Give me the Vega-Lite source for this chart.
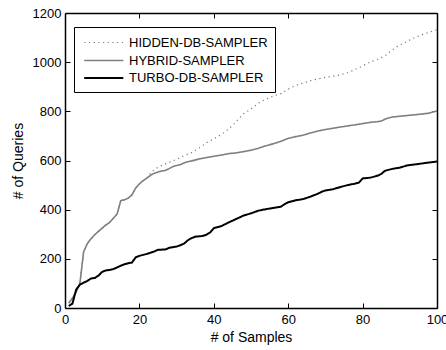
{
  "$schema": "https://vega.github.io/schema/vega-lite/v6.json",
  "width": 372,
  "height": 295,
  "autosize": {"type": "none"},
  "padding": {"left": 65, "top": 13, "right": 9, "bottom": 42},
  "config": {
    "font": "Liberation Sans",
    "view": {"stroke": null},
    "axis": {
      "grid": false,
      "domainColor": "black",
      "domainWidth": 1.5,
      "tickColor": "black",
      "tickWidth": 1,
      "tickSize": -5,
      "labelFontSize": 13,
      "labelColor": "black",
      "labelFont": "Liberation Sans",
      "labelFlush": false,
      "labelOverlap": false,
      "labelBound": false,
      "format": "d",
      "titleFontSize": 14,
      "titleFontWeight": "normal",
      "titleColor": "black",
      "titleFont": "Liberation Sans"
    },
    "legend": {
      "labelFont": "Liberation Sans",
      "labelFontSize": 13,
      "labelColor": "black"
    }
  },
  "data": {
    "values": [
      {"x": 1, "y": 20, "c": "HIDDEN-DB-SAMPLER"},
      {"x": 2, "y": 40, "c": "HIDDEN-DB-SAMPLER"},
      {"x": 3, "y": 65, "c": "HIDDEN-DB-SAMPLER"},
      {"x": 4, "y": 100, "c": "HIDDEN-DB-SAMPLER"},
      {"x": 5, "y": 228, "c": "HIDDEN-DB-SAMPLER"},
      {"x": 6, "y": 262, "c": "HIDDEN-DB-SAMPLER"},
      {"x": 8, "y": 298, "c": "HIDDEN-DB-SAMPLER"},
      {"x": 10, "y": 325, "c": "HIDDEN-DB-SAMPLER"},
      {"x": 12, "y": 348, "c": "HIDDEN-DB-SAMPLER"},
      {"x": 14, "y": 382, "c": "HIDDEN-DB-SAMPLER"},
      {"x": 15, "y": 437, "c": "HIDDEN-DB-SAMPLER"},
      {"x": 17, "y": 447, "c": "HIDDEN-DB-SAMPLER"},
      {"x": 18, "y": 460, "c": "HIDDEN-DB-SAMPLER"},
      {"x": 19, "y": 488, "c": "HIDDEN-DB-SAMPLER"},
      {"x": 20, "y": 505, "c": "HIDDEN-DB-SAMPLER"},
      {"x": 21, "y": 518, "c": "HIDDEN-DB-SAMPLER"},
      {"x": 22, "y": 530, "c": "HIDDEN-DB-SAMPLER"},
      {"x": 23, "y": 548, "c": "HIDDEN-DB-SAMPLER"},
      {"x": 24, "y": 563, "c": "HIDDEN-DB-SAMPLER"},
      {"x": 25, "y": 572, "c": "HIDDEN-DB-SAMPLER"},
      {"x": 26, "y": 580, "c": "HIDDEN-DB-SAMPLER"},
      {"x": 28, "y": 592, "c": "HIDDEN-DB-SAMPLER"},
      {"x": 30, "y": 605, "c": "HIDDEN-DB-SAMPLER"},
      {"x": 32, "y": 620, "c": "HIDDEN-DB-SAMPLER"},
      {"x": 34, "y": 632, "c": "HIDDEN-DB-SAMPLER"},
      {"x": 36, "y": 650, "c": "HIDDEN-DB-SAMPLER"},
      {"x": 38, "y": 672, "c": "HIDDEN-DB-SAMPLER"},
      {"x": 40, "y": 688, "c": "HIDDEN-DB-SAMPLER"},
      {"x": 42, "y": 705, "c": "HIDDEN-DB-SAMPLER"},
      {"x": 44, "y": 728, "c": "HIDDEN-DB-SAMPLER"},
      {"x": 46, "y": 758, "c": "HIDDEN-DB-SAMPLER"},
      {"x": 48, "y": 790, "c": "HIDDEN-DB-SAMPLER"},
      {"x": 50, "y": 810, "c": "HIDDEN-DB-SAMPLER"},
      {"x": 52, "y": 833, "c": "HIDDEN-DB-SAMPLER"},
      {"x": 54, "y": 850, "c": "HIDDEN-DB-SAMPLER"},
      {"x": 56, "y": 862, "c": "HIDDEN-DB-SAMPLER"},
      {"x": 58, "y": 872, "c": "HIDDEN-DB-SAMPLER"},
      {"x": 60, "y": 890, "c": "HIDDEN-DB-SAMPLER"},
      {"x": 62, "y": 905, "c": "HIDDEN-DB-SAMPLER"},
      {"x": 64, "y": 915, "c": "HIDDEN-DB-SAMPLER"},
      {"x": 66, "y": 925, "c": "HIDDEN-DB-SAMPLER"},
      {"x": 68, "y": 932, "c": "HIDDEN-DB-SAMPLER"},
      {"x": 70, "y": 938, "c": "HIDDEN-DB-SAMPLER"},
      {"x": 72, "y": 943, "c": "HIDDEN-DB-SAMPLER"},
      {"x": 74, "y": 948, "c": "HIDDEN-DB-SAMPLER"},
      {"x": 76, "y": 958, "c": "HIDDEN-DB-SAMPLER"},
      {"x": 78, "y": 970, "c": "HIDDEN-DB-SAMPLER"},
      {"x": 80, "y": 985, "c": "HIDDEN-DB-SAMPLER"},
      {"x": 82, "y": 1000, "c": "HIDDEN-DB-SAMPLER"},
      {"x": 84, "y": 1012, "c": "HIDDEN-DB-SAMPLER"},
      {"x": 86, "y": 1025, "c": "HIDDEN-DB-SAMPLER"},
      {"x": 88, "y": 1050, "c": "HIDDEN-DB-SAMPLER"},
      {"x": 90, "y": 1070, "c": "HIDDEN-DB-SAMPLER"},
      {"x": 92, "y": 1085, "c": "HIDDEN-DB-SAMPLER"},
      {"x": 94, "y": 1100, "c": "HIDDEN-DB-SAMPLER"},
      {"x": 96, "y": 1112, "c": "HIDDEN-DB-SAMPLER"},
      {"x": 98, "y": 1122, "c": "HIDDEN-DB-SAMPLER"},
      {"x": 100, "y": 1132, "c": "HIDDEN-DB-SAMPLER"},

      {"x": 1, "y": 20, "c": "HYBRID-SAMPLER"},
      {"x": 2, "y": 40, "c": "HYBRID-SAMPLER"},
      {"x": 3, "y": 65, "c": "HYBRID-SAMPLER"},
      {"x": 4, "y": 100, "c": "HYBRID-SAMPLER"},
      {"x": 5, "y": 228, "c": "HYBRID-SAMPLER"},
      {"x": 6, "y": 262, "c": "HYBRID-SAMPLER"},
      {"x": 7, "y": 282, "c": "HYBRID-SAMPLER"},
      {"x": 8, "y": 298, "c": "HYBRID-SAMPLER"},
      {"x": 9, "y": 312, "c": "HYBRID-SAMPLER"},
      {"x": 10, "y": 325, "c": "HYBRID-SAMPLER"},
      {"x": 11, "y": 338, "c": "HYBRID-SAMPLER"},
      {"x": 12, "y": 348, "c": "HYBRID-SAMPLER"},
      {"x": 13, "y": 365, "c": "HYBRID-SAMPLER"},
      {"x": 14, "y": 382, "c": "HYBRID-SAMPLER"},
      {"x": 15, "y": 437, "c": "HYBRID-SAMPLER"},
      {"x": 16, "y": 440, "c": "HYBRID-SAMPLER"},
      {"x": 17, "y": 447, "c": "HYBRID-SAMPLER"},
      {"x": 18, "y": 460, "c": "HYBRID-SAMPLER"},
      {"x": 19, "y": 488, "c": "HYBRID-SAMPLER"},
      {"x": 20, "y": 505, "c": "HYBRID-SAMPLER"},
      {"x": 21, "y": 518, "c": "HYBRID-SAMPLER"},
      {"x": 22, "y": 528, "c": "HYBRID-SAMPLER"},
      {"x": 23, "y": 540, "c": "HYBRID-SAMPLER"},
      {"x": 24, "y": 548, "c": "HYBRID-SAMPLER"},
      {"x": 25, "y": 553, "c": "HYBRID-SAMPLER"},
      {"x": 26, "y": 557, "c": "HYBRID-SAMPLER"},
      {"x": 27, "y": 560, "c": "HYBRID-SAMPLER"},
      {"x": 28, "y": 567, "c": "HYBRID-SAMPLER"},
      {"x": 29, "y": 575, "c": "HYBRID-SAMPLER"},
      {"x": 30, "y": 580, "c": "HYBRID-SAMPLER"},
      {"x": 31, "y": 583, "c": "HYBRID-SAMPLER"},
      {"x": 32, "y": 590, "c": "HYBRID-SAMPLER"},
      {"x": 33, "y": 595, "c": "HYBRID-SAMPLER"},
      {"x": 34, "y": 598, "c": "HYBRID-SAMPLER"},
      {"x": 35, "y": 602, "c": "HYBRID-SAMPLER"},
      {"x": 36, "y": 606, "c": "HYBRID-SAMPLER"},
      {"x": 38, "y": 612, "c": "HYBRID-SAMPLER"},
      {"x": 40, "y": 617, "c": "HYBRID-SAMPLER"},
      {"x": 42, "y": 622, "c": "HYBRID-SAMPLER"},
      {"x": 44, "y": 628, "c": "HYBRID-SAMPLER"},
      {"x": 46, "y": 631, "c": "HYBRID-SAMPLER"},
      {"x": 48, "y": 636, "c": "HYBRID-SAMPLER"},
      {"x": 50, "y": 642, "c": "HYBRID-SAMPLER"},
      {"x": 52, "y": 650, "c": "HYBRID-SAMPLER"},
      {"x": 54, "y": 660, "c": "HYBRID-SAMPLER"},
      {"x": 56, "y": 668, "c": "HYBRID-SAMPLER"},
      {"x": 58, "y": 678, "c": "HYBRID-SAMPLER"},
      {"x": 60, "y": 690, "c": "HYBRID-SAMPLER"},
      {"x": 62, "y": 697, "c": "HYBRID-SAMPLER"},
      {"x": 64, "y": 703, "c": "HYBRID-SAMPLER"},
      {"x": 66, "y": 712, "c": "HYBRID-SAMPLER"},
      {"x": 68, "y": 720, "c": "HYBRID-SAMPLER"},
      {"x": 70, "y": 726, "c": "HYBRID-SAMPLER"},
      {"x": 72, "y": 731, "c": "HYBRID-SAMPLER"},
      {"x": 74, "y": 736, "c": "HYBRID-SAMPLER"},
      {"x": 76, "y": 741, "c": "HYBRID-SAMPLER"},
      {"x": 78, "y": 745, "c": "HYBRID-SAMPLER"},
      {"x": 80, "y": 750, "c": "HYBRID-SAMPLER"},
      {"x": 82, "y": 755, "c": "HYBRID-SAMPLER"},
      {"x": 84, "y": 758, "c": "HYBRID-SAMPLER"},
      {"x": 85, "y": 760, "c": "HYBRID-SAMPLER"},
      {"x": 86, "y": 768, "c": "HYBRID-SAMPLER"},
      {"x": 87, "y": 773, "c": "HYBRID-SAMPLER"},
      {"x": 88, "y": 777, "c": "HYBRID-SAMPLER"},
      {"x": 90, "y": 780, "c": "HYBRID-SAMPLER"},
      {"x": 92, "y": 783, "c": "HYBRID-SAMPLER"},
      {"x": 94, "y": 786, "c": "HYBRID-SAMPLER"},
      {"x": 96, "y": 789, "c": "HYBRID-SAMPLER"},
      {"x": 98, "y": 793, "c": "HYBRID-SAMPLER"},
      {"x": 100, "y": 802, "c": "HYBRID-SAMPLER"},

      {"x": 1, "y": 8, "c": "TURBO-DB-SAMPLER"},
      {"x": 2, "y": 18, "c": "TURBO-DB-SAMPLER"},
      {"x": 3, "y": 75, "c": "TURBO-DB-SAMPLER"},
      {"x": 4, "y": 95, "c": "TURBO-DB-SAMPLER"},
      {"x": 5, "y": 103, "c": "TURBO-DB-SAMPLER"},
      {"x": 6, "y": 110, "c": "TURBO-DB-SAMPLER"},
      {"x": 7, "y": 120, "c": "TURBO-DB-SAMPLER"},
      {"x": 8, "y": 122, "c": "TURBO-DB-SAMPLER"},
      {"x": 9, "y": 132, "c": "TURBO-DB-SAMPLER"},
      {"x": 10, "y": 147, "c": "TURBO-DB-SAMPLER"},
      {"x": 11, "y": 153, "c": "TURBO-DB-SAMPLER"},
      {"x": 12, "y": 155, "c": "TURBO-DB-SAMPLER"},
      {"x": 13, "y": 158, "c": "TURBO-DB-SAMPLER"},
      {"x": 14, "y": 165, "c": "TURBO-DB-SAMPLER"},
      {"x": 15, "y": 172, "c": "TURBO-DB-SAMPLER"},
      {"x": 16, "y": 178, "c": "TURBO-DB-SAMPLER"},
      {"x": 17, "y": 182, "c": "TURBO-DB-SAMPLER"},
      {"x": 18, "y": 185, "c": "TURBO-DB-SAMPLER"},
      {"x": 19, "y": 206, "c": "TURBO-DB-SAMPLER"},
      {"x": 20, "y": 212, "c": "TURBO-DB-SAMPLER"},
      {"x": 21, "y": 216, "c": "TURBO-DB-SAMPLER"},
      {"x": 22, "y": 220, "c": "TURBO-DB-SAMPLER"},
      {"x": 23, "y": 225, "c": "TURBO-DB-SAMPLER"},
      {"x": 24, "y": 230, "c": "TURBO-DB-SAMPLER"},
      {"x": 25, "y": 237, "c": "TURBO-DB-SAMPLER"},
      {"x": 27, "y": 238, "c": "TURBO-DB-SAMPLER"},
      {"x": 28, "y": 245, "c": "TURBO-DB-SAMPLER"},
      {"x": 30, "y": 250, "c": "TURBO-DB-SAMPLER"},
      {"x": 31, "y": 255, "c": "TURBO-DB-SAMPLER"},
      {"x": 32, "y": 262, "c": "TURBO-DB-SAMPLER"},
      {"x": 33, "y": 275, "c": "TURBO-DB-SAMPLER"},
      {"x": 34, "y": 284, "c": "TURBO-DB-SAMPLER"},
      {"x": 35, "y": 290, "c": "TURBO-DB-SAMPLER"},
      {"x": 37, "y": 293, "c": "TURBO-DB-SAMPLER"},
      {"x": 38, "y": 298, "c": "TURBO-DB-SAMPLER"},
      {"x": 39, "y": 307, "c": "TURBO-DB-SAMPLER"},
      {"x": 40, "y": 325, "c": "TURBO-DB-SAMPLER"},
      {"x": 42, "y": 333, "c": "TURBO-DB-SAMPLER"},
      {"x": 44, "y": 348, "c": "TURBO-DB-SAMPLER"},
      {"x": 46, "y": 362, "c": "TURBO-DB-SAMPLER"},
      {"x": 48, "y": 376, "c": "TURBO-DB-SAMPLER"},
      {"x": 50, "y": 385, "c": "TURBO-DB-SAMPLER"},
      {"x": 52, "y": 396, "c": "TURBO-DB-SAMPLER"},
      {"x": 54, "y": 402, "c": "TURBO-DB-SAMPLER"},
      {"x": 56, "y": 407, "c": "TURBO-DB-SAMPLER"},
      {"x": 58, "y": 412, "c": "TURBO-DB-SAMPLER"},
      {"x": 59, "y": 422, "c": "TURBO-DB-SAMPLER"},
      {"x": 60, "y": 430, "c": "TURBO-DB-SAMPLER"},
      {"x": 62, "y": 438, "c": "TURBO-DB-SAMPLER"},
      {"x": 64, "y": 443, "c": "TURBO-DB-SAMPLER"},
      {"x": 66, "y": 453, "c": "TURBO-DB-SAMPLER"},
      {"x": 68, "y": 465, "c": "TURBO-DB-SAMPLER"},
      {"x": 69, "y": 473, "c": "TURBO-DB-SAMPLER"},
      {"x": 70, "y": 478, "c": "TURBO-DB-SAMPLER"},
      {"x": 72, "y": 483, "c": "TURBO-DB-SAMPLER"},
      {"x": 74, "y": 492, "c": "TURBO-DB-SAMPLER"},
      {"x": 76, "y": 500, "c": "TURBO-DB-SAMPLER"},
      {"x": 78, "y": 506, "c": "TURBO-DB-SAMPLER"},
      {"x": 79, "y": 510, "c": "TURBO-DB-SAMPLER"},
      {"x": 80, "y": 527, "c": "TURBO-DB-SAMPLER"},
      {"x": 82, "y": 530, "c": "TURBO-DB-SAMPLER"},
      {"x": 84, "y": 538, "c": "TURBO-DB-SAMPLER"},
      {"x": 85, "y": 545, "c": "TURBO-DB-SAMPLER"},
      {"x": 86, "y": 558, "c": "TURBO-DB-SAMPLER"},
      {"x": 88, "y": 566, "c": "TURBO-DB-SAMPLER"},
      {"x": 90, "y": 571, "c": "TURBO-DB-SAMPLER"},
      {"x": 92, "y": 580, "c": "TURBO-DB-SAMPLER"},
      {"x": 94, "y": 584, "c": "TURBO-DB-SAMPLER"},
      {"x": 96, "y": 588, "c": "TURBO-DB-SAMPLER"},
      {"x": 98, "y": 592, "c": "TURBO-DB-SAMPLER"},
      {"x": 100, "y": 596, "c": "TURBO-DB-SAMPLER"}
    ]
  },
  "layer": [
    {
      "mark": {"type": "line", "strokeCap": "butt"},
      "encoding": {
        "x": {
          "field": "x", "type": "quantitative",
          "scale": {"domain": [0, 100], "nice": false},
          "axis": {"values": [0, 20, 40, 60, 80, 100], "title": "# of Samples", "labelPadding": 10, "titlePadding": 4}
        },
        "y": {
          "field": "y", "type": "quantitative",
          "scale": {"domain": [0, 1200], "nice": false},
          "axis": {"values": [0, 200, 400, 600, 800, 1000, 1200], "title": "# of Queries", "labelPadding": 9, "titlePadding": 7}
        },
        "color": {
          "field": "c", "type": "nominal",
          "scale": {"domain": ["HIDDEN-DB-SAMPLER", "HYBRID-SAMPLER", "TURBO-DB-SAMPLER"], "range": ["#7a7a7a", "#7f7f7f", "#000000"]},
          "legend": {
            "title": null,
            "orient": "none",
            "legendX": 9,
            "legendY": 14,
            "padding": 7,
            "strokeColor": "black",
            "fillColor": "white",
            "symbolType": "M-0.74,0H4.26",
            "symbolSize": 245,
            "labelOffset": 30,
            "rowPadding": 1.5
          }
        },
        "strokeDash": {
          "field": "c", "type": "nominal",
          "scale": {"domain": ["HIDDEN-DB-SAMPLER", "HYBRID-SAMPLER", "TURBO-DB-SAMPLER"], "range": [[1.2, 3.5], [1, 0], [1, 0]]},
          "legend": null
        },
        "strokeWidth": {
          "field": "c", "type": "nominal",
          "scale": {"domain": ["HIDDEN-DB-SAMPLER", "HYBRID-SAMPLER", "TURBO-DB-SAMPLER"], "range": [1.2, 2, 2]},
          "legend": null
        }
      }
    },
    {
      "mark": {"type": "line", "opacity": 0},
      "encoding": {
        "x": {
          "field": "x", "type": "quantitative",
          "axis": {"orient": "top", "values": [0, 20, 40, 60, 80, 100], "labels": false, "title": null}
        },
        "y": {
          "field": "y", "type": "quantitative",
          "axis": {"orient": "right", "values": [0, 200, 400, 600, 800, 1000, 1200], "labels": false, "title": null}
        },
        "detail": {"field": "c", "type": "nominal"}
      }
    }
  ],
  "resolve": {"axis": {"x": "independent", "y": "independent"}}
}
